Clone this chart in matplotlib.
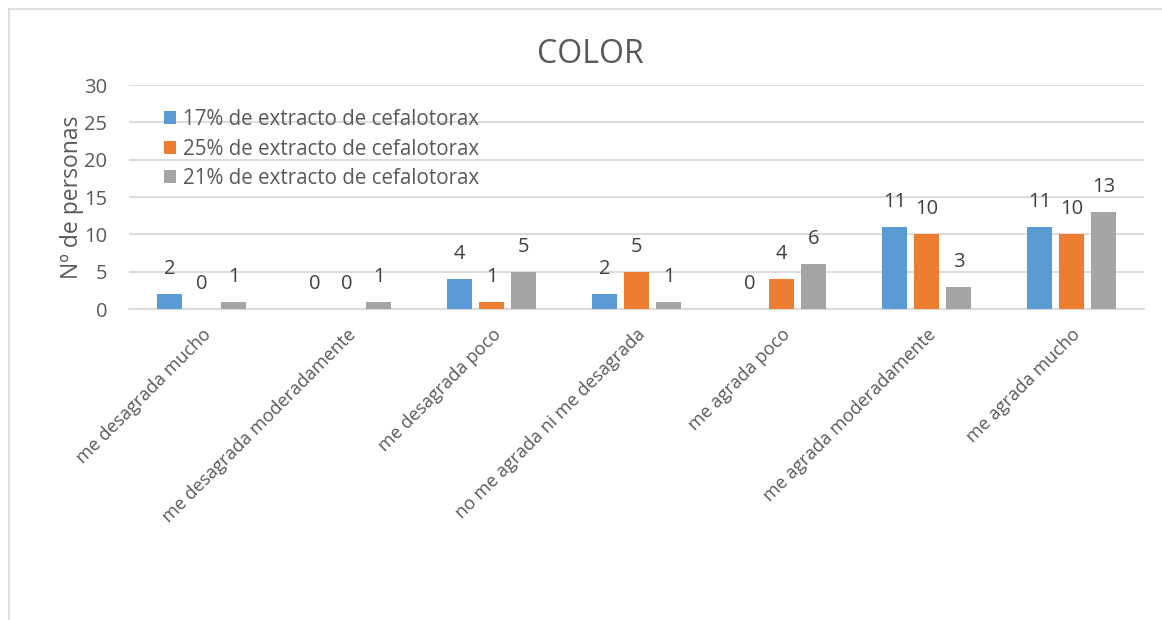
import numpy as np
import matplotlib
matplotlib.use("Agg")
import matplotlib.pyplot as plt
from matplotlib.lines import Line2D

# data
categories = ["me desagrada mucho", "me desagrada moderadamente", "me desagrada poco",
              "no me agrada ni me desagrada", "me agrada poco",
              "me agrada moderadamente", "me agrada mucho"]
series_names = ["17% de extracto de cefalotorax",
                "25% de extracto de cefalotorax",
                "21% de extracto de cefalotorax"]
vals_17 = [2, 0, 4, 2, 0, 11, 11]
vals_25 = [0, 0, 1, 5, 4, 10, 10]
vals_21 = [1, 1, 5, 1, 6, 3, 13]
colors = ["#5B9BD5", "#ED7D31", "#A5A5A5"]

txt = "#595959"
plt.rcParams["font.family"] = ["Open Sans", "DejaVu Sans"]

fig = plt.figure(figsize=(11.62, 6.2), dpi=100)
ax = fig.add_axes([0.1114, 0.5016, 0.873, 0.3613])

x = np.arange(len(categories))
step = 0.221
width = 0.173
for i, (vals, name, col) in enumerate(zip([vals_17, vals_25, vals_21], series_names, colors)):
    pos = x + (i - 1) * step
    ax.bar(pos, vals, width, color=col, label=name, zorder=3)
    for px, v in zip(pos, vals):
        ax.annotate(str(v), (px, v), xytext=(0, 18), textcoords="offset points",
                    ha="center", va="center", fontsize=14.5, color="#404040")

ax.set_xlim(-0.5, len(categories) - 0.5)
ax.set_ylim(0, 30)
ax.set_yticks(range(0, 31, 5))
ax.grid(axis="y", color="#D9D9D9", linewidth=1.3, zorder=0)
for s in ["top", "right", "left"]:
    ax.spines[s].set_visible(False)
ax.spines["bottom"].set_color("#D9D9D9")
ax.spines["bottom"].set_linewidth(1.3)
ax.tick_params(axis="both", length=0, colors=txt, labelsize=14.5)
ax.tick_params(axis="y", pad=16)
ax.set_xticks(x)
ax.set_xticklabels(categories, rotation=45, ha="right", va="top",
                   rotation_mode="anchor", fontsize=13, color=txt)
ax.tick_params(axis="x", pad=12)

ax.set_ylabel("Nº de personas", fontsize=16.5, color=txt, labelpad=0)
fig.text(0.508, 0.912, "COLOR", ha="center", va="center", fontsize=23, color=txt)

leg = ax.legend(loc="upper left", bbox_to_anchor=(0.026, 0.93), frameon=False,
                fontsize=14.8, handlelength=0.6, handleheight=0.6, handletextpad=0.3,
                labelspacing=0.42, borderaxespad=0)
for t in leg.get_texts():
    t.set_color(txt)

# chart-area border (top and left visible)
fig.add_artist(Line2D([8.5 / 1162, 1.0], [1 - 9 / 620] * 2, transform=fig.transFigure,
                      color="#D9D9D9", linewidth=1.2))
fig.add_artist(Line2D([8.5 / 1162] * 2, [0.0, 1 - 9 / 620], transform=fig.transFigure,
                      color="#D9D9D9", linewidth=1.2))

fig.savefig("out.png", dpi=100)
